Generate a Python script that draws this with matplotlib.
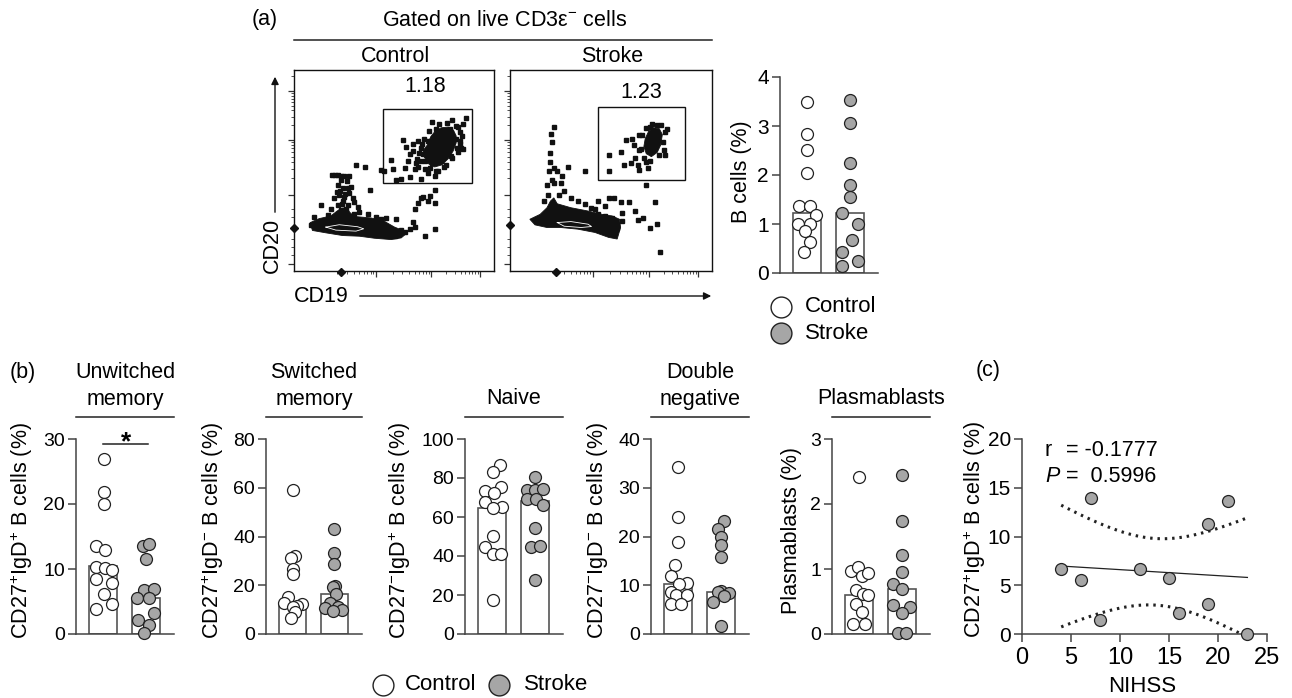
import numpy as np
import matplotlib
matplotlib.use('Agg')
import matplotlib.pyplot as plt
from matplotlib.patches import Rectangle, Polygon, FancyArrowPatch
from matplotlib.lines import Line2D

plt.rcParams['font.family'] = ['Liberation Sans', 'DejaVu Sans']
plt.rcParams['mathtext.fontset'] = 'custom'
plt.rcParams['mathtext.rm'] = 'Liberation Sans'
plt.rcParams['mathtext.it'] = 'Liberation Sans:italic'
plt.rcParams['mathtext.bf'] = 'Liberation Sans:bold'

# ---------------- data ----------------
# (a) flow cytometry events (arbitrary fluorescence units)
ctrl_ev_x = [512,573,605,612,425,433,455,440,390,430,397,370,360,405,418,445,478,500,470,520,603,590,548,466,460,490,500,512,540,585,597,500,515,525,545,565,590,600,598,570,555,530,505,485,478,470,455,445,465,
             488,502,532,556,585,596,595,588,572,548,524,492,478,472,483,
             520,505,485,478,500,470,462,522,520,490,455,460,445,432,418,405,375,328,313,285,212,222,230,240,250,265,240,258,232,245,260,270,265,250,235,220,245,275,280,290,182,210,230,240,255,280,295,320,345,360,375,390,400,415,200,160,150,340,
             228,238,252,262,244,236,256]
ctrl_ev_y = [185,177,190,173,238,258,270,300,295,320,322,330,325,355,352,348,352,335,318,345,265,272,242,294,322,300,282,305,300,235,250,240,230,205,215,205,200,225,262,285,310,330,320,280,260,240,250,280,305,
             235,212,190,186,195,215,240,262,290,318,330,322,300,276,250,
             385,402,405,410,418,425,440,425,500,522,480,495,502,510,505,470,468,385,318,310,340,340,340,343,345,345,355,360,370,380,378,375,395,405,400,410,418,410,420,435,430,440,430,445,450,455,450,455,465,470,495,510,520,510,460,465,490,485,
             392,388,398,430,426,452,440]
ctrl_blob_x = [148,175,210,228,240,252,262,270,285,330,370,400,425,438,420,390,340,295,245,195,155]
ctrl_blob_y = [482,470,462,448,440,438,446,455,464,468,478,495,505,512,527,532,528,522,520,512,505]
ctrl_core_x = [498,508,522,540,560,576,584,584,575,560,541,520,502,489,486]
ctrl_core_y = [252,228,210,201,199,208,225,246,270,293,311,317,308,288,268]
ctrl_cont_x = [195,235,290,308,285,225,195]
ctrl_cont_y = [495,488,494,500,507,504,495]
ctrl_gate = (367, 145, 632, 365)

strk_ev_x = [1192,1225,1240,1258,1278,1310,1330,1268,1275,1255,1235,1190,1280,1305,1300,1355,1352,1362,1280,1265,
             1288,1300,1318,1342,1356,1350,1338,1312,1292,1284,
             1300,1325,1330,1340,1310,1290,1275,1268,1230,1250,1225,1205,1190,1180,1160,1150,1120,1070,1055,1050,1045,1030,1022,1025,1020,1018,1030,1040,1015,1025,1010,1030,1012,1000,1060,1080,1100,1120,1140,1160,1180,1200,1215,1230,1150,1180]
strk_ev_y = [470,460,425,420,410,385,380,480,500,495,500,520,515,510,490,470,455,390,455,440,
             410,388,375,378,400,430,470,488,478,452,
             560,612,680,765,690,660,668,640,645,612,612,600,600,625,610,635,520,505,535,555,590,385,405,430,465,490,510,520,520,545,560,555,590,610,580,600,610,620,630,650,655,660,690,670,690,700]
strk_blob_x = [960,990,1010,1020,1030,1040,1080,1130,1170,1200,1222,1225,1215,1190,1150,1100,1050,1010,975]
strk_blob_y = [665,650,630,610,600,618,630,640,650,655,665,690,725,720,705,695,690,690,682]
strk_core_x = [1297,1307,1321,1338,1347,1342,1332,1315,1300,1293]
strk_core_y = [420,398,387,390,408,440,462,475,466,444]
strk_cont_x = [1040,1080,1130,1140,1110,1060,1040]
strk_cont_y = [675,672,680,687,690,686,675]
strk_gate = (1158, 325, 1412, 545)
gate_pct = ['1.18', '1.23']

# (a) B cells (%)
a_ctrl = [3.48, 2.84, 2.52, 2.05, 1.36, 1.36, 1.19, 1.00, 1.00, 0.85, 0.63, 0.43]
a_ctrl_dx = [0, 0, 0, 0, -0.2, 0.06, 0.21, -0.22, 0.06, -0.06, 0.06, -0.07]
a_strk = [3.54, 3.06, 2.24, 1.80, 1.56, 1.22, 0.99, 0.68, 0.42, 0.24, 0.15]
a_strk_dx = [0, 0, 0, 0, 0, -0.18, 0.18, 0.04, -0.18, 0.18, -0.18]
a_bars = [1.22, 1.22]

# (b) subsets
b1_ctrl = [26.9, 21.9, 20.0, 13.5, 12.9, 10.3, 10.1, 9.9, 8.5, 7.9, 6.2, 4.6, 3.8]
b1_ctrl_dx = [0.02, 0.02, 0.02, -0.17, 0.03, -0.17, 0.03, 0.21, -0.17, 0.2, 0.02, 0.2, -0.17]
b1_strk = [13.5, 13.8, 11.5, 6.7, 6.9, 5.6, 5.5, 3.2, 2.2, 1.4, 0.1]
b1_strk_dx = [-0.07, 0.08, 0.0, -0.05, 0.2, -0.2, 0.08, 0.2, -0.19, 0.08, -0.05]
b1_bars = [10.4, 5.6]

b2_ctrl = [59.1, 32.0, 31.2, 26.5, 24.6, 15.0, 12.9, 12.3, 11.5, 11.0, 9.2, 6.4]
b2_ctrl_dx = [0, 0.06, -0.05, 0, 0, -0.11, -0.2, 0.23, 0.11, 0.0, 0.05, -0.05]
b2_strk = [43.1, 33.1, 28.7, 19.8, 19.4, 16.4, 12.9, 11.2, 10.5, 9.8, 9.5]
b2_strk_dx = [0, 0, 0, 0.02, -0.04, 0.04, -0.1, 0.08, -0.22, 0.19, -0.04]
b2_bars = [12.0, 16.3]

b3_ctrl = [86.7, 83.2, 75.2, 73.5, 72.1, 67.9, 65.0, 64.4, 50.3, 44.8, 41.0, 41.0, 17.4]
b3_ctrl_dx = [0.19, 0.02, 0.21, -0.17, 0.03, -0.17, 0.22, 0.02, 0.02, -0.17, 0.02, 0.21, 0.02]
b3_strk = [80.7, 73.8, 73.8, 74.2, 69.1, 69.1, 66.2, 54.2, 44.8, 45.1, 27.7]
b3_strk_dx = [0, -0.19, 0, 0.2, -0.19, 0.03, 0.2, 0.01, -0.09, 0.12, 0]
b3_bars = [64.4, 68.4]

b4_ctrl = [34.2, 24.1, 18.9, 14.2, 11.8, 10.4, 10.3, 8.7, 8.0, 8.0, 6.2, 6.2]
b4_ctrl_dx = [0, 0, 0, -0.08, -0.18, 0.2, 0.02, -0.18, -0.06, 0.2, -0.18, 0.07]
b4_strk = [23.2, 21.5, 19.8, 18.3, 15.7, 8.9, 8.7, 8.5, 7.8, 6.6, 1.6]
b4_strk_dx = [0.07, -0.07, 0.01, 0, 0, 0.01, -0.07, 0.2, 0.07, -0.19, 0]
b4_bars = [10.3, 8.7]

b5_ctrl = [2.41, 0.97, 1.03, 0.89, 0.94, 0.67, 0.62, 0.60, 0.46, 0.34, 0.15, 0.15]
b5_ctrl_dx = [0, -0.2, -0.03, 0.07, 0.2, -0.07, 0.09, 0.2, -0.07, 0.07, -0.15, 0.13]
b5_strk = [2.45, 1.74, 1.21, 0.96, 0.77, 0.70, 0.44, 0.41, 0.33, 0.01, 0.01]
b5_strk_dx = [0, 0, 0, 0, -0.2, 0, -0.2, 0.19, 0, -0.1, 0.1]
b5_bars = [0.60, 0.69]

# (c) correlation
c_nihss = [4, 6, 7, 8, 12, 15, 16, 19, 19, 21, 23]
c_pct = [6.7, 5.5, 13.9, 1.4, 6.7, 5.7, 2.2, 11.3, 3.1, 13.6, 0.05]
T_975_DF9 = 2.262

# ---------------- styling ----------------
W, H = 1292, 698
fig = plt.figure(figsize=(W / 100, H / 100), dpi=100)
GREY = '#a6a6a6'
EDGE = '#222222'
SPINE = '#444444'
FS = 15.5


def px_axes(x0, y0, x1, y1):
    return fig.add_axes([x0 / W, 1 - y1 / H, (x1 - x0) / W, (y1 - y0) / H])


def ftext(x, y, s, **kw):
    kw.setdefault('fontsize', FS)
    kw.setdefault('ha', 'center')
    kw.setdefault('va', 'center')
    return fig.text(x / W, 1 - y / H, s, **kw)


def fline(x0, y0, x1, y1, **kw):
    kw.setdefault('color', '#222222')
    kw.setdefault('lw', 1.1)
    fig.add_artist(Line2D([x0 / W, x1 / W], [1 - y0 / H, 1 - y1 / H], transform=fig.transFigure, **kw))


def fmarker(x, y, face):
    fig.add_artist(Line2D([x / W], [1 - y / H], marker='o', ms=15, mfc=face, mec=EDGE, mew=1.0,
                          ls='none', transform=fig.transFigure))


def bar_panel(ax, ctrl, cdx, strk, sdx, bars, ymax, step):
    ax.bar([0, 1], bars, width=0.65, color='white', edgecolor='#555555', linewidth=1.2, zorder=1)
    ax.scatter(np.array(cdx), ctrl, s=74, facecolor='white', edgecolor=EDGE, linewidth=0.9, zorder=3, clip_on=False)
    ax.scatter(1 + np.array(sdx), strk, s=74, facecolor=GREY, edgecolor=EDGE, linewidth=0.9, zorder=3, clip_on=False)
    ax.set_xlim(-0.64, 1.66)
    ax.set_ylim(0, ymax)
    ax.set_yticks(np.arange(0, ymax + step / 2, step))
    for sp in ['top', 'right']:
        ax.spines[sp].set_visible(False)
    for sp in ['left', 'bottom']:
        ax.spines[sp].set_color(SPINE)
        ax.spines[sp].set_linewidth(1.1)
    ax.tick_params(axis='x', bottom=False, labelbottom=False)
    ax.tick_params(axis='y', length=6, width=1.1, color=SPINE, labelsize=14, pad=2)
    ax.patch.set_visible(False)


def flow_panel(ax, xlim, ylim, ex, ey, bx, by, cx, cy, wx, wy, gate, label, label_xy, clumps):
    ax.set_xlim(*xlim)
    ax.set_ylim(*ylim)
    ax.add_patch(Polygon(np.column_stack([bx, by]), closed=True, fc='#111111', ec='#111111', lw=0.6, zorder=2))
    ax.add_patch(Polygon(np.column_stack([cx, cy]), closed=True, fc='#111111', ec='#111111', lw=0.6, zorder=2))
    ax.plot(wx, wy, color='white', lw=0.6, zorder=3)
    ax.plot(ex, ey, ls='none', marker='s', ms=2.4, color='#111111', zorder=2)
    ax.plot(clumps[0], clumps[1], ls='none', marker='D', ms=4, color='#111111', clip_on=False, zorder=4)
    g0x, g0y, g1x, g1y = gate
    ax.add_patch(Rectangle((g0x, g0y), g1x - g0x, g1y - g0y, fill=False, ec='#111111', lw=1.0, zorder=4))
    ax.text(label_xy[0], label_xy[1], label, fontsize=FS, ha='center', va='center')
    for sp in ax.spines.values():
        sp.set_color('#111111')
        sp.set_linewidth(1.0)
    # biexponential-like tick layout (fractions of axis)
    xmaj = [0.41, 0.687, 0.93]
    ymaj = [0.037, 0.378, 0.652, 0.896]
    k = np.log10(np.arange(2, 10))
    xmin = np.concatenate([a + (b - a) * k for a, b in [(0.133, 0.41), (0.41, 0.687), (0.687, 0.93), (0.93, 1.17)]])
    ymin = np.concatenate([a + (b - a) * k for a, b in [(0.378, 0.652), (0.652, 0.896), (0.896, 1.14)]] + [np.array([0.08, 0.12, 0.16, 0.27, 0.31])])
    xmin = xmin[xmin < 0.995]
    ymin = ymin[ymin < 0.995]
    fx = lambda f: xlim[0] + np.asarray(f) * (xlim[1] - xlim[0])
    fy = lambda f: ylim[0] + np.asarray(f) * (ylim[1] - ylim[0])
    ax.set_xticks(fx(xmaj))
    ax.set_xticks(fx(xmin), minor=True)
    ax.set_yticks(fy(ymaj))
    ax.set_yticks(fy(ymin), minor=True)
    ax.tick_params(which='both', labelbottom=False, labelleft=False, direction='out', color='#333333')
    ax.tick_params(which='major', length=4, width=0.9)
    ax.tick_params(which='minor', length=2.2, width=0.6)


# ---------------- (a) flow plots ----------------
ax_fc = px_axes(294, 70, 494, 271)
flow_panel(ax_fc, (100, 697), (625, 30), ctrl_ev_x, ctrl_ev_y, ctrl_blob_x, ctrl_blob_y,
           ctrl_core_x, ctrl_core_y, ctrl_cont_x, ctrl_cont_y, ctrl_gate, gate_pct[0], (492, 80),
           ([100, 240], [497, 627]))
ax_fs = px_axes(510, 70, 712, 271)
flow_panel(ax_fs, (902, 1492), (822, 212), strk_ev_x, strk_ev_y, strk_blob_x, strk_blob_y,
           strk_core_x, strk_core_y, strk_cont_x, strk_cont_y, strk_gate, gate_pct[1], (1285, 280),
           ([902, 1035], [683, 826]))

ftext(265, 20, '(a)')
ftext(505, 20, 'Gated on live CD3ε$^{-}$ cells')
fline(294, 40, 712, 40)
ftext(396, 56, 'Control')
ftext(612, 56, 'Stroke')
ftext(272, 245, 'CD20', rotation=90)
fig.add_artist(FancyArrowPatch((275 / W, 1 - 215 / H), (275 / W, 1 - 74 / H), transform=fig.transFigure,
                               arrowstyle='-|>', mutation_scale=11, lw=1.0, color='#111111'))
ftext(294, 297, 'CD19', ha='left')
fig.add_artist(FancyArrowPatch((357 / W, 1 - 296 / H), (714 / W, 1 - 296 / H), transform=fig.transFigure,
                               arrowstyle='-|>', mutation_scale=11, lw=1.0, color='#111111'))

# ---------------- (a) bar plot ----------------
ax_a = px_axes(780, 77, 878, 273)
bar_panel(ax_a, a_ctrl, a_ctrl_dx, a_strk, a_strk_dx, a_bars, 4, 1)
ax_a.tick_params(axis='y', labelsize=15)
ftext(742, 172, 'B cells (%)', rotation=90)
fmarker(781, 307, 'white')
ftext(805, 307, 'Control', ha='left', fontsize=16)
fmarker(781, 333, GREY)
ftext(805, 333, 'Stroke', ha='left', fontsize=16)

# ---------------- (b) ----------------
ftext(23, 372, '(b)')
b_specs = [
    ((76, 174), b1_ctrl, b1_ctrl_dx, b1_strk, b1_strk_dx, b1_bars, 30, 10, 22, 'CD27$^{+}$IgD$^{+}$ B cells (%)', ['Unwitched', 'memory']),
    ((266, 362), b2_ctrl, b2_ctrl_dx, b2_strk, b2_strk_dx, b2_bars, 80, 20, 213, 'CD27$^{+}$IgD$^{-}$ B cells (%)', ['Switched', 'memory']),
    ((465, 563), b3_ctrl, b3_ctrl_dx, b3_strk, b3_strk_dx, b3_bars, 100, 20, 400, 'CD27$^{-}$IgD$^{+}$ B cells (%)', ['Naive']),
    ((651, 749), b4_ctrl, b4_ctrl_dx, b4_strk, b4_strk_dx, b4_bars, 40, 10, 597, 'CD27$^{-}$IgD$^{-}$ B cells (%)', ['Double', 'negative']),
    ((832, 930), b5_ctrl, b5_ctrl_dx, b5_strk, b5_strk_dx, b5_bars, 3, 1, 792, 'Plasmablasts (%)', ['Plasmablasts']),
]
b_axes = []
for (x0, x1), c, cdx, s, sdx, bars, ymax, step, lx, ylab, title in b_specs:
    ax = px_axes(x0, 439, x1, 634)
    bar_panel(ax, c, cdx, s, sdx, bars, ymax, step)
    b_axes.append(ax)
    ftext(lx, 531, ylab, rotation=90)
    xc = (x0 + x1) / 2
    if len(title) == 2:
        ftext(xc, 372, title[0])
        ftext(xc, 399, title[1])
    else:
        ftext(xc, 398, title[0])
    fline(x0, 417, x1, 417)

# significance bracket on first panel
ax1 = b_axes[0]
ax1.plot([0, 1.05], [29.2, 29.2], color='#222222', lw=1.1, clip_on=False)
ftext(126, 449, '*', va='baseline', fontsize=19, fontweight='bold')

# bottom legend
fmarker(383, 685, 'white')
ftext(405, 685, 'Control', ha='left', fontsize=16)
fmarker(499, 685, GREY)
ftext(524, 685, 'Stroke', ha='left', fontsize=16)

# ---------------- (c) ----------------
ftext(988, 370, '(c)')
ax_c = px_axes(1022, 439, 1267, 634)
xs = np.array(c_nihss, dtype=float)
ys = np.array(c_pct, dtype=float)
slope, icpt = np.polyfit(xs, ys, 1)
xf = np.linspace(xs.min(), xs.max(), 100)
yf = icpt + slope * xf
n = len(xs)
resid = ys - (icpt + slope * xs)
s_err = np.sqrt(np.sum(resid ** 2) / (n - 2))
sxx = np.sum((xs - xs.mean()) ** 2)
half = T_975_DF9 * s_err * np.sqrt(1 / n + (xf - xs.mean()) ** 2 / sxx)
ax_c.plot(xf, yf, color='#222222', lw=0.9, zorder=2)
ax_c.plot(xf, yf + half, color='#222222', lw=2.2, ls=(0, (0.8, 1.6)), zorder=2)
ax_c.plot(xf, yf - half, color='#222222', lw=2.2, ls=(0, (0.8, 1.6)), zorder=2, clip_on=False)
ax_c.scatter(xs, ys, s=74, facecolor=GREY, edgecolor=EDGE, linewidth=0.9, zorder=3, clip_on=False)
ax_c.set_xlim(0, 25)
ax_c.set_ylim(0, 20)
ax_c.set_xticks(np.arange(0, 26, 5))
ax_c.set_yticks(np.arange(0, 21, 5))
for sp in ['top', 'right']:
    ax_c.spines[sp].set_visible(False)
for sp in ['left', 'bottom']:
    ax_c.spines[sp].set_color(SPINE)
    ax_c.spines[sp].set_linewidth(1.1)
ax_c.tick_params(axis='y', length=6, width=1.1, color=SPINE, labelsize=15, pad=2)
ax_c.tick_params(axis='x', length=6, width=1.1, color=SPINE, labelsize=17, pad=3)
ax_c.patch.set_visible(False)
ftext(975, 530, 'CD27$^{+}$IgD$^{+}$ B cells (%)', rotation=90)
ftext(1142, 687, 'NIHSS', fontsize=16)
ftext(1045, 450, 'r', ha='left')
ftext(1066, 450, '= -0.1777', ha='left')
ftext(1045, 476, 'P', ha='left', style='italic')
ftext(1066, 476, '=  0.5996', ha='left')

fig.savefig('out.png', dpi=100)
